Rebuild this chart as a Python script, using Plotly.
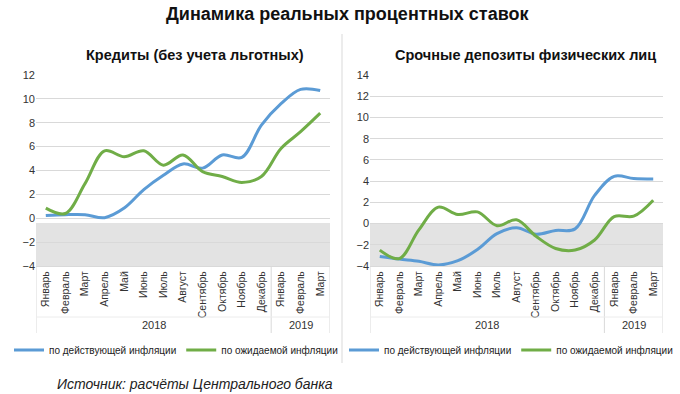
import plotly.graph_objects as go

months = ["Январь", "Февраль", "Март", "Апрель", "Май", "Июнь", "Июль", "Август",
          "Сентябрь", "Октябрь", "Ноябрь", "Декабрь", "Январь", "Февраль", "Март"]
years = ["2018"] * 12 + ["2019"] * 3

credit_actual = [0.22, 0.3, 0.3, 0.05, 0.85, 2.4, 3.6, 4.55, 4.2, 5.3, 5.1, 7.8, 9.6, 10.8, 10.7]
credit_expected = [0.85, 0.4, 2.9, 5.65, 5.15, 5.65, 4.45, 5.3, 3.9, 3.5, 3.0, 3.5, 5.85, 7.25, 8.8]
deposit_actual = [-3.1, -3.35, -3.55, -3.9, -3.5, -2.45, -0.95, -0.4, -1.0, -0.65, -0.5, 2.65, 4.45, 4.25, 4.2]
deposit_expected = [-2.5, -3.3, -0.6, 1.55, 0.85, 1.1, -0.2, 0.35, -1.2, -2.35, -2.5, -1.55, 0.65, 0.7, 2.2]

series_names = ["по действующей инфляции", "по ожидаемой инфляции"]
colors = ["#5B9BD5", "#70AD47"]

title = "Динамика реальных процентных ставок"
sub_left = "Кредиты (без учета льготных)"
sub_right = "Срочные депозиты физических лиц"
source = "Источник: расчёты Центрального банка"

x = list(range(len(months)))
FONT = "Liberation Sans, Arial, sans-serif"
GRID = "#d9d9d9"

fig = go.Figure()
for vals, name, col in zip([credit_actual, credit_expected], series_names, colors):
    fig.add_trace(go.Scatter(x=x, y=vals, mode="lines", name=name, xaxis="x", yaxis="y",
                             line=dict(color=col, width=3, shape="spline", smoothing=1.0),
                             legend="legend"))
for vals, name, col in zip([deposit_actual, deposit_expected], series_names, colors):
    fig.add_trace(go.Scatter(x=x, y=vals, mode="lines", name=name, xaxis="x2", yaxis="y2",
                             line=dict(color=col, width=3, shape="spline", smoothing=1.0),
                             legend="legend2"))

ydom = [1 - 266 / 394, 1 - 75 / 394]
xcommon = dict(range=[-0.5, len(months) - 0.5], tickmode="array", tickvals=x, ticktext=months,
               tickangle=-90, tickfont=dict(size=10.5, color="#333", family=FONT),
               showgrid=False, zeroline=False, showline=True, linecolor=GRID, ticks="",
               fixedrange=True)
ycommon = dict(dtick=2, showgrid=True, gridcolor=GRID, gridwidth=1, zeroline=False,
               tickfont=dict(size=11, color="#333", family=FONT), ticks="", showline=False,
               fixedrange=True)

legend_common = dict(orientation="h", yanchor="middle", y=1 - 350 / 394, xanchor="center",
                     font=dict(size=10, color="#222", family=FONT), itemwidth=30,
                     bgcolor="rgba(0,0,0,0)", tracegroupgap=0)

fig.update_layout(
    width=680, height=394,
    margin=dict(l=0, r=0, t=0, b=0, autoexpand=False),
    paper_bgcolor="white", plot_bgcolor="white",
    font=dict(family=FONT, color="#222"),
    xaxis=dict(domain=[36 / 680, 330 / 680], anchor="y", **xcommon),
    yaxis=dict(domain=ydom, range=[-4, 12], anchor="x", **ycommon),
    xaxis2=dict(domain=[370 / 680, 663 / 680], anchor="y2", **xcommon),
    yaxis2=dict(domain=ydom, range=[-4, 14], anchor="x2", **ycommon),
    legend=dict(x=176 / 680, **legend_common),
    legend2=dict(x=511 / 680, **legend_common),
    showlegend=True,
)

shapes = []
# gray negative bands
shapes.append(dict(type="rect", xref="x", yref="y", x0=-0.5, x1=len(months) - 0.5, y0=-4, y1=-0.4,
                   fillcolor="#e3e3e3", line=dict(width=0), layer="below"))
shapes.append(dict(type="rect", xref="x2", yref="y2", x0=-0.5, x1=len(months) - 0.5, y0=-4, y1=0,
                   fillcolor="#e3e3e3", line=dict(width=0), layer="below"))

# category dividers
n2018 = years.count("2018")
for xr in ["x", "x2"]:
    for xv in [-0.5, n2018 - 0.5, len(months) - 0.5]:
        shapes.append(dict(type="line", xref=xr, yref="paper", x0=xv, x1=xv,
                           y0=1 - 333 / 394, y1=1 - 266 / 394, line=dict(color=GRID, width=1)))
    shapes.append(dict(type="line", xref=xr, yref="paper", x0=-0.5, x1=len(months) - 0.5,
                       y0=1 - 317 / 394, y1=1 - 317 / 394, line=dict(color="#ececec", width=1)))

# vertical separator between charts
shapes.append(dict(type="line", xref="paper", yref="paper", x0=342 / 680, x1=342 / 680,
                   y0=1 - 363 / 394, y1=1 - 34 / 394, line=dict(color=GRID, width=1)))
fig.update_layout(shapes=shapes)

ann = []
for xr in ["x", "x2"]:
    for yr in ["2018", "2019"]:
        idx = [i for i, v in enumerate(years) if v == yr]
        ann.append(dict(x=sum(idx) / len(idx), xref=xr, y=1 - 325 / 394, yref="paper",
                        xanchor="center", yanchor="middle",
                        text=yr, showarrow=False, font=dict(size=11, color="#333", family=FONT)))
ann.append(dict(x=347 / 680, y=1 - 14 / 394, xref="paper", yref="paper", text="<b>" + title + "</b>",
                xanchor="center", yanchor="middle",
                showarrow=False, font=dict(size=18, color="#111", family=FONT)))
ann.append(dict(x=195 / 680, y=1 - 55 / 394, xref="paper", yref="paper", text="<b>" + sub_left + "</b>",
                xanchor="center", yanchor="middle",
                showarrow=False, font=dict(size=14.5, color="#111", family=FONT)))
ann.append(dict(x=525 / 680, y=1 - 55 / 394, xref="paper", yref="paper", text="<b>" + sub_right + "</b>",
                xanchor="center", yanchor="middle",
                showarrow=False, font=dict(size=14.5, color="#111", family=FONT)))
ann.append(dict(x=55 / 680, y=1 - 384 / 394, xref="paper", yref="paper", text="<i>" + source + "</i>",
                xanchor="left", yanchor="middle", showarrow=False,
                font=dict(size=14, color="#222", family=FONT)))
fig.update_layout(annotations=ann)

fig.write_html("out.html", config={"displayModeBar": False},
               post_script="document.body.style.margin='0';")
